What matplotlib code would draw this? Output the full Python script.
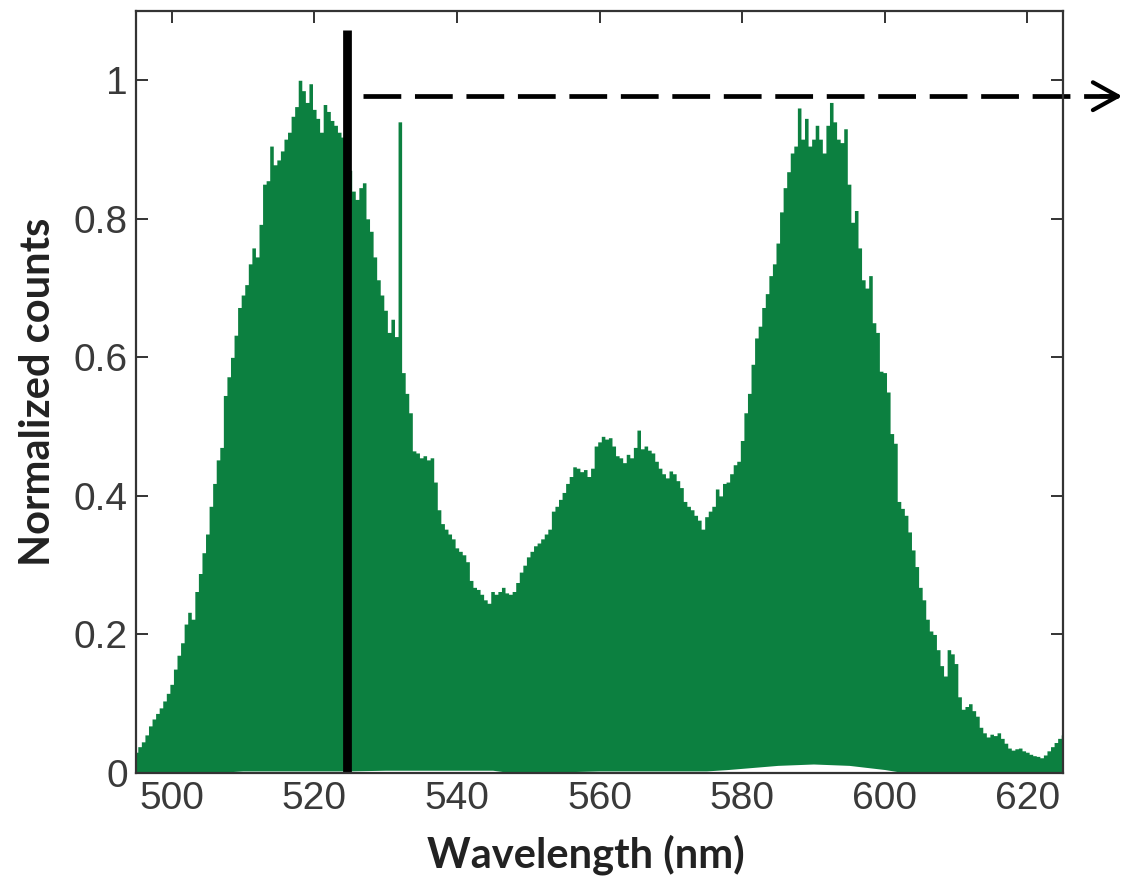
import numpy as np
import matplotlib
matplotlib.use("Agg")
import matplotlib.pyplot as plt

# ---- data ----
wavelength_start = 495.0
wavelength_step = 0.5
counts = [
    0.030, 0.038, 0.045, 0.055, 0.068, 0.078, 0.086, 0.094, 0.104, 0.115,   # 495.0-499.5
    0.128, 0.150, 0.170, 0.188, 0.215, 0.232, 0.222, 0.262, 0.288, 0.318,   # 500.0-504.5
    0.345, 0.385, 0.418, 0.452, 0.470, 0.545, 0.572, 0.600, 0.632, 0.672,   # 505.0-509.5
    0.690, 0.705, 0.735, 0.758, 0.745, 0.792, 0.850, 0.855, 0.905, 0.878,   # 510.0-514.5
    0.885, 0.898, 0.915, 0.925, 0.948, 0.962, 1.000, 0.985, 0.968, 0.995,   # 515.0-519.5
    0.958, 0.945, 0.925, 0.965, 0.955, 0.942, 0.935, 0.925, 0.918, 0.900,   # 520.0-524.5
    0.870, 0.840, 0.828, 0.845, 0.852, 0.800, 0.782, 0.745, 0.712, 0.690,   # 525.0-529.5
    0.668, 0.636, 0.655, 0.630, 0.940, 0.578, 0.548, 0.520, 0.465, 0.462,   # 530.0-534.5
    0.455, 0.458, 0.452, 0.455, 0.420, 0.380, 0.360, 0.352, 0.345, 0.338,   # 535.0-539.5
    0.325, 0.320, 0.315, 0.305, 0.278, 0.268, 0.265, 0.258, 0.250, 0.245,   # 540.0-544.5
    0.262, 0.258, 0.262, 0.268, 0.260, 0.258, 0.262, 0.275, 0.290, 0.300,   # 545.0-549.5
    0.312, 0.320, 0.328, 0.332, 0.338, 0.345, 0.352, 0.378, 0.385, 0.395,   # 550.0-554.5
    0.405, 0.418, 0.428, 0.442, 0.440, 0.435, 0.438, 0.428, 0.440, 0.472,   # 555.0-559.5
    0.478, 0.486, 0.482, 0.484, 0.472, 0.458, 0.455, 0.448, 0.460, 0.455,   # 560.0-564.5
    0.470, 0.495, 0.468, 0.472, 0.466, 0.462, 0.450, 0.440, 0.432, 0.426,   # 565.0-569.5
    0.436, 0.432, 0.422, 0.412, 0.392, 0.385, 0.380, 0.372, 0.365, 0.352,   # 570.0-574.5
    0.370, 0.378, 0.385, 0.410, 0.400, 0.418, 0.420, 0.432, 0.445, 0.450,   # 575.0-579.5
    0.480, 0.520, 0.548, 0.590, 0.628, 0.645, 0.672, 0.692, 0.718, 0.735,   # 580.0-584.5
    0.765, 0.810, 0.845, 0.868, 0.895, 0.905, 0.960, 0.915, 0.945, 0.905,   # 585.0-589.5
    0.915, 0.935, 0.915, 0.895, 0.935, 0.968, 0.940, 0.915, 0.910, 0.930,   # 590.0-594.5
    0.850, 0.795, 0.812, 0.758, 0.712, 0.700, 0.718, 0.650, 0.636, 0.580,   # 595.0-599.5
    0.578, 0.550, 0.490, 0.476, 0.392, 0.382, 0.372, 0.348, 0.322, 0.298,   # 600.0-604.5
    0.268, 0.250, 0.222, 0.205, 0.200, 0.178, 0.155, 0.140, 0.178, 0.172,   # 605.0-609.5
    0.158, 0.110, 0.092, 0.096, 0.100, 0.090, 0.082, 0.066, 0.058, 0.052,   # 610.0-614.5
    0.056, 0.054, 0.058, 0.050, 0.043, 0.036, 0.033, 0.035, 0.036, 0.032,   # 615.0-619.5
    0.030, 0.027, 0.025, 0.024, 0.022, 0.026, 0.032, 0.038, 0.044, 0.050,   # 620.0-624.5
    0.055,                                                                   # 625.0
]
wavelength = [wavelength_start + i * wavelength_step for i in range(len(counts))]

# faint white band along the baseline
base_wl = [495, 505, 510, 525, 530, 545, 548, 560, 575, 578, 585, 590, 595, 600, 603, 625]
base_vals = [0, 0, 0.003, 0.003, 0.004, 0.004, 0, 0.003, 0.003, 0.005, 0.011, 0.013, 0.011, 0.005, 0, 0]

marker_wavelength = 524.6
marker_top = 1.073
arrow_level = 0.977
arrow_start = 526.9
arrow_end = 633.3

x_ticks = [500, 520, 540, 560, 580, 600, 620]
y_ticks = [0, 0.2, 0.4, 0.6, 0.8, 1.0]
y_ticklabels = ["0", "0.2", "0.4", "0.6", "0.8", "1"]
x_label = "Wavelength (nm)"
y_label = "Normalized counts"

green = "#0c8040"
axis_col = "#333333"

fig = plt.figure(figsize=(11.25, 8.86), dpi=100)
ax = fig.add_axes([136 / 1125, 1 - 773 / 886, (1063 - 136) / 1125, (773 - 11) / 886])

ax.fill_between(wavelength, counts, 0, step="mid", color=green, lw=0, zorder=2)
ax.fill_between(base_wl, base_vals, 0, color="white", lw=0, zorder=3)

ax.plot([marker_wavelength, marker_wavelength], [0, marker_top], color="black",
        lw=6.3, solid_capstyle="butt", zorder=5, clip_on=False)

ax.plot([arrow_start, arrow_end - 0.6], [arrow_level, arrow_level], color="black", lw=3.4,
        dashes=(8.0, 2.9), dash_capstyle="butt", zorder=5, clip_on=False)
ax.annotate("", xy=(arrow_end, arrow_level), xytext=(arrow_end - 3, arrow_level),
            arrowprops=dict(arrowstyle="->,head_length=0.45,head_width=0.25",
                            color="black", lw=3.0, mutation_scale=40,
                            shrinkA=0, shrinkB=0),
            annotation_clip=False, zorder=6)

ax.set_xlim(495, 625)
ax.set_ylim(0, 1.1)
ax.set_xticks(x_ticks)
ax.set_yticks(y_ticks)
ax.set_yticklabels(y_ticklabels)

for s in ax.spines.values():
    s.set_color(axis_col)
    s.set_linewidth(1.6)
    s.set_zorder(7)

ax.tick_params(axis="both", which="major", direction="in", length=8.5, width=1.4,
               color=axis_col, top=True, right=True, labelsize=28, labelcolor="#3a3a3a",
               pad=6)
for lab in ax.get_xticklabels() + ax.get_yticklabels():
    lab.set_fontfamily(["Liberation Sans", "DejaVu Sans"])

ax.set_xlabel(x_label, fontsize=30, fontfamily=["Lato", "DejaVu Sans"], fontweight="bold",
              color="#222222")
ax.set_ylabel(y_label, fontsize=30, fontfamily=["Lato", "DejaVu Sans"], fontweight="bold",
              color="#222222")
ax.xaxis.set_label_coords((586 - 136) / 927, -(855 - 773) / 762)
ax.xaxis.label.set_va("center")
ax.yaxis.set_label_coords(-(136 - 38) / 927, 0.5)
ax.yaxis.label.set_va("center")

fig.savefig("out.png", dpi=100)
